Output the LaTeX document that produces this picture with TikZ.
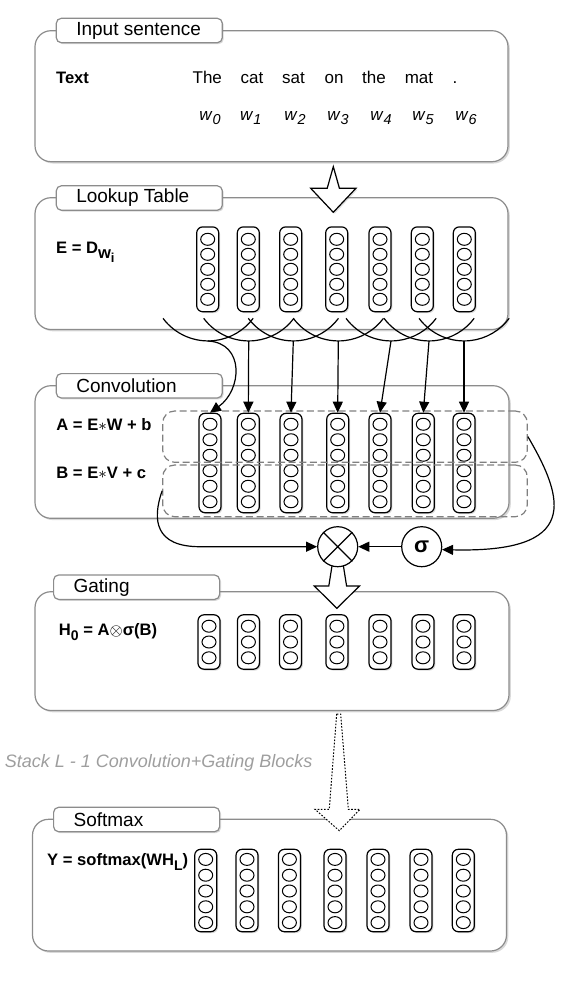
\documentclass[tikz,border=0pt]{standalone}
\usepackage{fontspec}
\setmainfont{Liberation Sans}
\usetikzlibrary{shapes,arrows.meta,positioning,calc,shadows}

\begin{document}
\begin{tikzpicture}[x=0.5pt,y=-0.5pt,
    panel/.style={draw=black!45,line width=0.6pt,fill=white,rounded corners=8pt,
      drop shadow={shadow xshift=0.9pt,shadow yshift=-0.9pt,opacity=0.3}},
    tabbox/.style={draw=black!45,line width=0.6pt,fill=white,rounded corners=2.5pt,
      anchor=west,inner xsep=10pt,inner ysep=0pt,text width=63pt,minimum height=12.2pt,
      align=flush left,font=\fontsize{9.5}{11}\selectfont,
      drop shadow={shadow xshift=0.7pt,shadow yshift=-0.7pt,opacity=0.3}},
    pill/.style={draw,line width=0.6pt,fill=white,rounded corners=3pt,minimum width=11pt,inner sep=0pt,
      drop shadow={shadow xshift=0.7pt,shadow yshift=-0.7pt,opacity=0.3}},
    cell/.style={line width=0.5pt},
    word/.style={anchor=base,inner sep=0pt,font=\fontsize{8.5}{10}\selectfont},
    eqn/.style={anchor=base west,inner sep=0pt,font=\fontsize{8.3}{10}\selectfont\bfseries},
    conn/.style={line width=0.6pt,-{Triangle[length=5.5pt,width=5pt]}},
    gate/.style={draw=black!50,dash pattern=on 3.5pt off 1.8pt,line width=0.6pt,rounded corners=6pt,inner sep=0pt},
    hollow/.style={draw,line width=0.6pt,fill=white,line join=miter},
    op/.style={circle,draw,line width=0.6pt,fill=white,minimum size=20pt,inner sep=0pt}]

\useasboundingbox (0,0) rectangle (570,986);

% panels
\draw[panel] (35,30.7) rectangle (508,161.7);
\draw[panel] (35,197.7) rectangle (508,329.5);
\draw[panel] (35,385.7) rectangle (509,518.3);
\draw[panel] (35,591.7) rectangle (509,710.5);
\draw[panel] (32.5,819.3) rectangle (506.5,951);

\node[tabbox] (tin) at (55.7,30.5) {Input sentence};
\node[tabbox] (tlk) at (55.7,198) {Lookup Table};
\node[tabbox] (tcv) at (55.7,385.8) {Convolution};
\node[tabbox] (tgt) at (53,587.2) {Gating};
\node[tabbox] (tsm) at (53,819.5) {Softmax};

% input sentence
\node[eqn] (txt) at (55.7,83.3) {Text};
\foreach \x/\t [count=\i from 0] in {207.3/The,252/cat,293.5/sat,334/on,374/the,419/mat,455/.}
  \node[word] (t\i) at (\x,83.3) {\t};
\foreach \x [count=\i from 0] in {210,250.7,295,338,381,423,466}
  \node[word] (w\i) at (\x,120) {\textit{w}\raisebox{-2.3pt}{\fontsize{7.2}{8}\selectfont\textit{\i}}};

\draw[hollow,drop shadow={shadow xshift=0.7pt,shadow yshift=-0.7pt,opacity=0.25}]
  (333.3,166.7) -- (327.2,188.3) -- (310.7,188.3) -- (333.3,212.3) -- (355.9,188.3) -- (339.4,188.3) -- cycle;

% lookup table
\node[eqn] (eqe) at (55.7,253.3) {E = D\raisebox{-2.5pt}{w\raisebox{-2.2pt}{\fontsize{6.5}{7}\selectfont i}}};
\foreach \x [count=\i from 0] in {207.7,248.3,290.7,336.7,380,422.3,464.3}{
  \node[pill,minimum height=42.4pt] (e\i) at (\x,269.3) {};
  \foreach \k in {-2,...,2}
    \draw[cell] (\x,269.3+15*\k) ellipse [x radius=7,y radius=6];
}

% convolution windows
\foreach \x [count=\i from 0] in {208,248.7,293.3,338.3,391,429,464}{
  \draw[line width=0.6pt] (\x-45,318.3) arc[start angle=143.3,end angle=36.7,radius=56.25];
  \coordinate (k\i) at (\x,341);
}

% convolution
\node[eqn] (eqa) at (56,430.5) {A = E$\ast$W + b};
\node[eqn] (eqb) at (56,478.5) {B = E$\ast$V + c};
\foreach \x [count=\i from 0] in {210,248.3,291,337.7,380,423.3,464}{
  \node[pill,minimum height=49.7pt] (c\i) at (\x,463) {};
  \foreach \k in {-2.5,-1.5,...,2.5}
    \draw[cell] (\x,463+15.5*\k) ellipse [x radius=7,y radius=6];
}
\node[gate,minimum width=182.3pt,minimum height=25.65pt] (gA) at (345,436.65) {};
\node[gate,minimum width=182.3pt,minimum height=25.85pt] (gB) at (345,490.85) {};

\draw[conn] (k0) .. controls (245,343) and (242,390) .. (c0.north);
\foreach \i in {1,...,6}
  \draw[conn] (k\i) -- (c\i.north);

% gating
\draw[hollow] (337.7,530) -- (328.8,586) -- (314.3,586) -- (336.9,608.3) -- (359.5,586) -- (346.6,586) -- cycle;
\node[op] (mul) at (337.7,546.7) {};
\draw[line width=0.6pt] (mul.45) -- (mul.225) (mul.135) -- (mul.-45);
\node[op,font=\fontsize{11}{12}\selectfont\bfseries] (sig) at (421.7,546.7) {σ};

\draw[conn] (gB.west) .. controls (152,520) and (155,546.7) .. (200,546.7) -- (mul.west);
\draw[conn] (gA.east) .. controls (565,500) and (580,553) .. (sig.-8);
\draw[conn] (sig) -- (mul);

\node[eqn] (eqh) at (58.5,635) {H\raisebox{-2.5pt}{\fontsize{7}{8}\selectfont 0} = A$\otimes$σ(B)};
\foreach \x [count=\i from 0] in {209,248.4,290.5,336.9,380,423,464}{
  \node[pill,minimum height=27.2pt] (h\i) at (\x,642) {};
  \foreach \k in {-1,0,1}
    \draw[cell] (\x,642+15.8*\k) ellipse [x radius=7,y radius=6];
}

% stacked blocks
\draw[hollow,line width=0.5pt,dash pattern=on 0.8pt off 0.8pt]
  (336.7,714) -- (329.3,809.3) -- (315,809.3) -- (339.3,830.7) -- (360,809.3) -- (348.3,809.3) -- (340.7,714) -- cycle;
\node[anchor=base west,inner sep=0pt,font=\fontsize{9}{11}\selectfont\itshape,text=black!38] (stk) at (4.4,767)
  {Stack L - 1 Convolution+Gating Blocks};

% softmax
\foreach \x [count=\i from 0] in {205.7,247,289.4,335,378,421,463.3}{
  \node[pill,minimum height=41.2pt] (y\i) at (\x,890.5) {};
  \foreach \k in {-2,...,2}
    \draw[cell] (\x,891+15.8*\k) ellipse [x radius=7,y radius=6];
}
\node[eqn] (eqy) at (46.8,865.5) {Y = softmax(WH\raisebox{-2.5pt}{\fontsize{7}{8}\selectfont L})};

\end{tikzpicture}
\end{document}
